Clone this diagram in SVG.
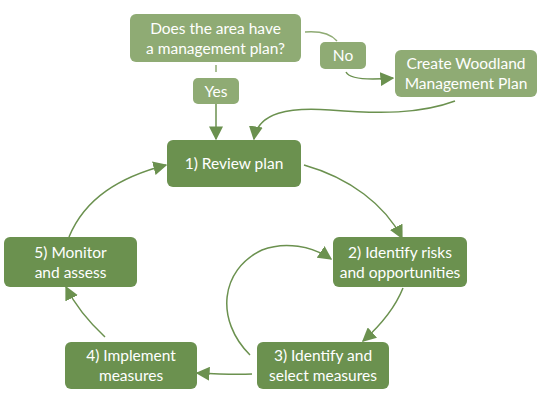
<svg xmlns="http://www.w3.org/2000/svg" width="540" height="400" viewBox="0 0 540 400">
<defs>
<style>
.dark{fill:#6b914f}
.light{fill:#8fab74}
text{font-family:Lato,"Open Sans","Liberation Sans",sans-serif;font-size:15.5px;fill:#ffffff;text-anchor:middle}
.c{fill:none;stroke:#6b914f;stroke-width:1.5}
.cl{fill:none;stroke:#8fab74;stroke-width:1.5}
</style>
<marker id="ahb" viewBox="0 0 10 10" refX="9" refY="5" markerWidth="14" markerHeight="14" markerUnits="userSpaceOnUse" orient="auto"><path d="M0,0 L10,5 L0,10 Z" fill="#6b914f"/></marker>
</defs>
<rect width="540" height="400" fill="#ffffff"/>
<g id="connectors">
<path class="cl" d="M305,32 C318,31 330,33 337,41"/>
<path class="c" d="M346,72 C350,80 370,80 393,78" marker-end="url(#ahb)"/>
<path class="cl" d="M216,65 L216,72"/>
<path class="c" d="M216,104 L216,139" marker-end="url(#ahb)"/>
<path class="c" d="M455,101 C420,114 380,114 330,110 C290,107 258,112 254,139" marker-end="url(#ahb)"/>
<path class="c" d="M304,165 C350,178 385,205 402,238" marker-end="url(#ahb)"/>
<path class="c" d="M69,237 C85,198 120,177 166,165" marker-end="url(#ahb)"/>
<path class="c" d="M403,288 C395,308 382,324 363,341" marker-end="url(#ahb)"/>
<path class="c" d="M250,355 C215,320 220,270 262,250 C285,241 312,246 331,259" marker-end="url(#ahb)"/>
<path class="c" d="M252,374 C235,375 215,374 197,373" marker-end="url(#ahb)"/>
<path class="c" d="M105,337 C90,323 75,305 66,287" marker-end="url(#ahb)"/>
</g>
<g id="q">
<rect class="light" x="130" y="14" width="171" height="48" rx="6"/>
<text x="215.5" y="34">Does the area have</text>
<text x="215.5" y="54">a management plan?</text>
</g>
<g id="no">
<rect class="light" x="320" y="42" width="46" height="27" rx="5"/>
<text x="343" y="61">No</text>
</g>
<g id="yes">
<rect class="light" x="193" y="78" width="46" height="26" rx="5"/>
<text x="216" y="97">Yes</text>
</g>
<g id="create">
<rect class="light" x="395" y="50" width="142" height="47" rx="6"/>
<text x="466" y="69">Create Woodland</text>
<text x="466" y="89">Management Plan</text>
</g>
<g id="n1">
<rect class="dark" x="167" y="140" width="134" height="47" rx="6"/>
<text x="234" y="169">1) Review plan</text>
</g>
<g id="n2">
<rect class="dark" x="333" y="237" width="134" height="50" rx="6"/>
<text x="400" y="258">2) Identify risks</text>
<text x="400" y="278">and opportunities</text>
</g>
<g id="n3">
<rect class="dark" x="257" y="342" width="132" height="47" rx="6"/>
<text x="323" y="361">3) Identify and</text>
<text x="323" y="381">select measures</text>
</g>
<g id="n4">
<rect class="dark" x="65" y="342" width="132" height="47" rx="6"/>
<text x="131" y="361">4) Implement</text>
<text x="131" y="381">measures</text>
</g>
<g id="n5">
<rect class="dark" x="4" y="237" width="133" height="50" rx="6"/>
<text x="70.5" y="258">5) Monitor</text>
<text x="70.5" y="278">and assess</text>
</g>
</svg>
